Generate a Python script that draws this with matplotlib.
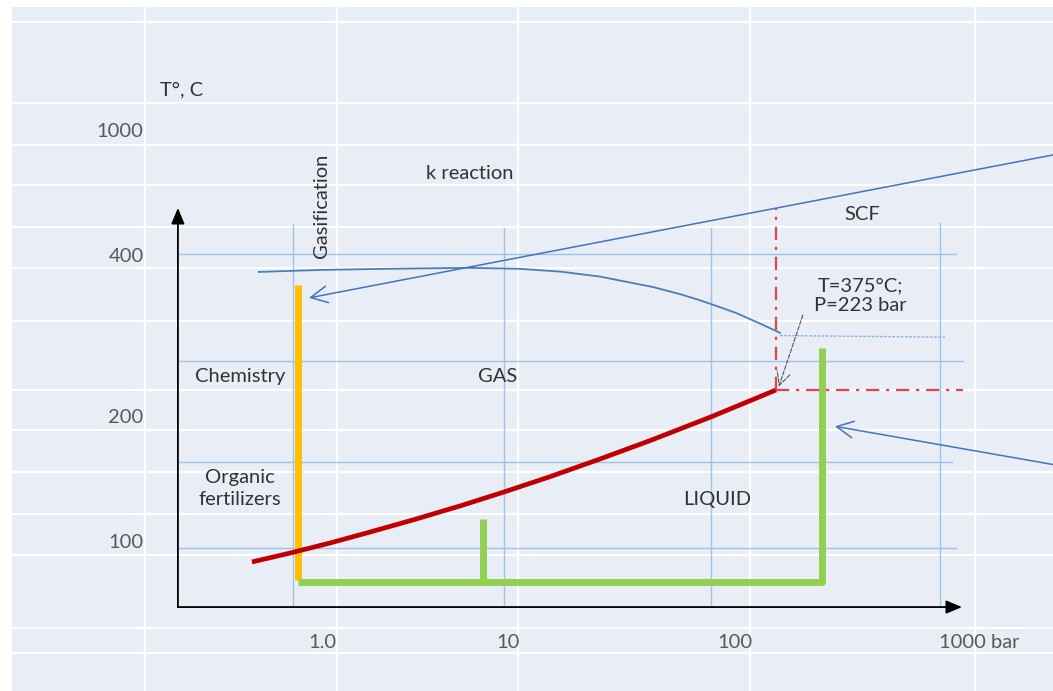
import numpy as np
import matplotlib
matplotlib.use('Agg')
import matplotlib.pyplot as plt

plt.rcParams['font.family'] = ['Lato', 'DejaVu Sans']

# ---- values ----
# pressure labels (bar) and temperature labels (deg C)
p_ticks = [1.0, 10, 100]
p_tick_labels = ['1.0', '10', '100']
p_last = 1000
t_ticks = [1000, 400, 200, 100]

# liquid / gas boundary (red) up to the critical point
sat_p = [0.420, 0.673, 1.104, 1.812, 3.162, 5.52, 9.52, 15.3, 25.4, 42.2, 78.4, 159]
sat_t = [90.1, 94.6, 100.0, 106.2, 113.9, 122.6, 132.4, 144.0, 158.7, 175.6, 200.1, 224.7]
crit_p, crit_t = 159, 225

# k reaction curve (blue) and its flat tail
k_p = [0.458, 0.976, 2.0, 3.365, 6.25, 11.29, 17.1, 25.4, 43.5, 57.2, 69.3, 85.9, 101, 132.6, 166.2]
k_t = [373.5, 376.7, 378.3, 379.2, 380.1, 378.5, 373.9, 366.1, 350, 339.5, 331.1, 320.9, 313.1, 299.1, 287.3]
k_tail_p = [166, 1065]
k_tail_t = [284, 282]

# thin reference lines: horizontal levels and vertical pressures
ref_t = [406, 254, 156, 97.3]
ref_t_end = [1195, 1285, 1146, 1195]
ref_p = [0.698, 9.51, 78.3, 1010]
ref_p_top = [506, 491, 491, 510]

# process windows
gasif_p = 0.743
gasif_t = [81.6, 353]
liquid_p = [0.743, 267, 267]
liquid_t = [80.7, 80.7, 269]
branch_p = 7.34
branch_t = [80.7, 114]

# k reaction pointers (tail -> head)
k_arrow_tail = [(3296, 839), (3296, 154)]
k_arrow_head = [(0.851, 334), (309, 190)]

# axes of the sketch
origin_p, origin_t = 0.168, 70.3
t_axis_top = 569
p_axis_end = 1273
crit_line_top = 569
crit_line_end = 1285

# ---- schematic (non uniform) scales, mapped to figure pixels ----
DEC = [-2, -1, 0, 1, 2, 3, 4]
XPIX = [-50, 136, 322, 508, 735, 939, 1159]
LOGT = [1, 2, np.log10(200), np.log10(400), 3, 4]
YPIX = [-270.6, 148, 274, 435, 560, 874]


def fx(p):
    return np.interp(np.log10(np.clip(p, 1e-9, None)), DEC, XPIX)


def ix(v):
    return 10 ** np.interp(v, XPIX, DEC)


def fy(t):
    return np.interp(np.log10(np.clip(t, 1e-9, None)), LOGT, YPIX)


def iy(v):
    return 10 ** np.interp(v, YPIX, LOGT)


W, H = 1053, 691
fig = plt.figure(figsize=(W / 100, H / 100), dpi=100)

# background panel with white grid
bg = fig.add_axes([12 / W, 0, (W - 12) / W, (H - 7) / H])
bg.set_facecolor('#E9EDF5')
bg.set_xlim(12, W)
bg.set_ylim(H, 7)
bg.set_xticks([145, 337, 518, 750, 975])
bg.set_yticks([22, 103, 145, 185, 227, 268, 321, 390, 430, 472, 514, 555, 628, 653])
bg.grid(color='white', lw=1.6)
bg.tick_params(length=0, labelbottom=False, labelleft=False)
for s in bg.spines.values():
    s.set_visible(False)

ax = fig.add_axes([0, 0, 1, 1])
ax.set_facecolor('none')
ax.set_xscale('function', functions=(fx, ix))
ax.set_yscale('function', functions=(fy, iy))
ax.set_xlim(ix(0), ix(W))
ax.set_ylim(iy(0), iy(H))
ax.axis('off')

ref_col = '#9DC3E6'
for t, pend in zip(ref_t, ref_t_end):
    ax.plot([origin_p, pend], [t, t], color=ref_col, lw=1.0)
for p, ttop in zip(ref_p, ref_p_top):
    ax.plot([p, p], [origin_t, ttop], color=ref_col, lw=1.0)

# k reaction curve
ax.plot(k_p, k_t, color='#4A7EBB', lw=1.3)
ax.plot(k_tail_p, k_tail_t, color='#8DB4E2', lw=1.0, ls=(0, (2, 1)))
for tail, head in zip(k_arrow_tail, k_arrow_head):
    ax.annotate('', xy=head, xytext=tail,
                arrowprops=dict(arrowstyle='->,head_length=0.6,head_width=0.3',
                                color='#4472C4', lw=1.1, mutation_scale=20,
                                shrinkA=0, shrinkB=0))

# process windows
ax.plot([gasif_p, gasif_p], gasif_t, color='#FFC000', lw=5, solid_capstyle='butt')
ax.plot(liquid_p, liquid_t, color='#92D050', lw=5, solid_capstyle='butt')
ax.plot([branch_p, branch_p], branch_t, color='#92D050', lw=5, solid_capstyle='butt')

# boiling curve and critical point
ax.plot(sat_p, sat_t, color='#C00000', lw=3.4, solid_capstyle='butt')
ax.plot([crit_p, crit_p], [crit_t, crit_line_top], color='#E0464B', lw=1.6,
        ls=(0, (6, 3, 1.5, 3)))
ax.plot([crit_p, crit_line_end], [crit_t, crit_t], color='#E0464B', lw=1.6,
        ls=(0, (6, 3, 1.5, 3)))
ax.annotate('', xy=(164, 228), xytext=(215, 310),
            arrowprops=dict(arrowstyle='->,head_length=0.6,head_width=0.3',
                            color='#555555', lw=0.8, ls='--', mutation_scale=16,
                            shrinkA=0, shrinkB=0))

# sketch axes
arrow_kw = dict(arrowstyle='-|>,head_length=0.6,head_width=0.25', color='black',
                lw=1.3, mutation_scale=16, shrinkA=0, shrinkB=0)
ax.annotate('', xy=(origin_p, t_axis_top), xytext=(origin_p, origin_t), arrowprops=arrow_kw)
ax.annotate('', xy=(p_axis_end, origin_t), xytext=(origin_p, origin_t), arrowprops=arrow_kw)

# labels
tick_col = '#595959'
txt_col = '#333333'
fs = 14.5
for t in t_ticks:
    ax.text(0.11, t, str(t), ha='right', va='center', fontsize=fs, color=tick_col)
ax.text(0.135, 1351, 'T°, C', ha='left', va='center', fontsize=fs, color=txt_col)
for p, lab in zip(p_ticks, p_tick_labels):
    ax.text(p, 58, lab, ha='center', va='center', fontsize=fs, color=tick_col)
ax.text(p_last, 58, '1000 bar', ha='left', va='center', fontsize=fs, color=tick_col)

ax.text(1.0, 576, 'Gasification', rotation=90, ha='center', va='center', fontsize=fs, color=txt_col)
ax.text(6.25, 734, 'k reaction', ha='center', va='center', fontsize=fs, color=txt_col)
ax.text(420, 541, 'SCF', ha='center', va='center', fontsize=fs, color=txt_col)
ax.text(410, 337, 'T=375°C;\nP=223 bar', ha='center', va='center', fontsize=fs,
        color=txt_col, linespacing=1.2)
ax.text(0.362, 238, 'Chemistry', ha='center', va='center', fontsize=fs, color=txt_col)
ax.text(8.84, 238, 'GAS', ha='center', va='center', fontsize=fs, color=txt_col)
ax.text(0.362, 135, 'Organic\nfertilizers', ha='center', va='center', fontsize=fs,
        color=txt_col, linespacing=1.3)
ax.text(83.4, 127, 'LIQUID', ha='center', va='center', fontsize=fs, color=txt_col)

fig.savefig('out.png', dpi=100)
